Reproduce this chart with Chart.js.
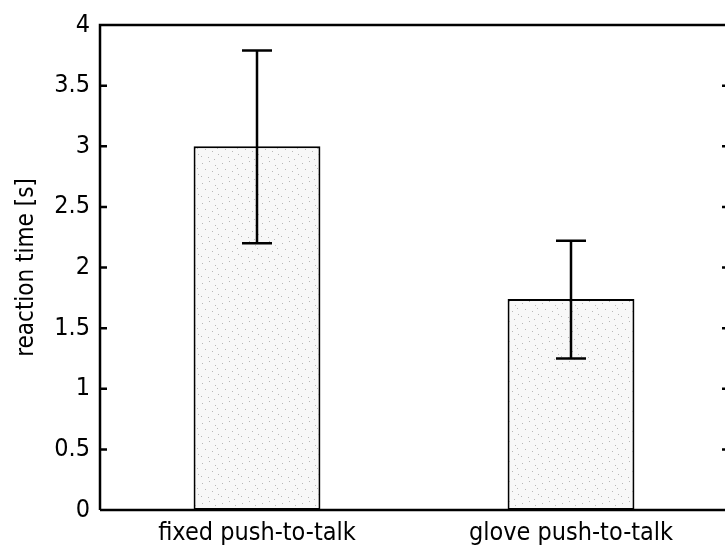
<!DOCTYPE html>
<html>
<head>
<meta charset="utf-8">
<script src="https://cdn.jsdelivr.net/npm/chart.js@4.4.1/dist/chart.umd.min.js"></script>
<style>
  body { margin: 0; background: #fff; overflow: hidden; }
  #wrap { width: 728px; height: 548px; }
</style>
</head>
<body>
<div id="wrap"><canvas id="myChart"></canvas></div>
<script>
const categories = ["fixed push-to-talk", "glove push-to-talk"];
const meanTime = [3.0, 1.74];
const errLow = [2.2, 1.25];
const errHigh = [3.79, 2.22];
const yTicks = [0, 0.5, 1, 1.5, 2, 2.5, 3, 3.5, 4];

const FONT = "'Liberation Sans Narrow', 'DejaVu Sans Condensed', 'Liberation Sans', sans-serif";

// speckled light grey fill like the scanned bars
function speckle() {
  const c = document.createElement("canvas");
  c.width = 20; c.height = 20;
  const g = c.getContext("2d");
  g.fillStyle = "#f8f8f8";
  g.fillRect(0, 0, 20, 20);
  g.fillStyle = "#b8b8b8";
  [[2,3],[9,1],[15,5],[5,9],[12,11],[18,14],[1,16],[8,17],[14,19],[17,8]].forEach(p => g.fillRect(p[0], p[1], 1, 1));
  return g.createPattern(c, "repeat");
}

const errorBars = {
  id: "errorBars",
  afterDatasetsDraw(chart) {
    const { ctx, scales: { y } } = chart;
    const meta = chart.getDatasetMeta(0);
    ctx.save();
    ctx.strokeStyle = "#000";
    ctx.lineWidth = 2.5;
    meta.data.forEach((bar, i) => {
      const x = bar.x;
      const lo = y.getPixelForValue(errLow[i]);
      const hi = y.getPixelForValue(errHigh[i]);
      ctx.beginPath();
      ctx.moveTo(x, lo); ctx.lineTo(x, hi);
      ctx.moveTo(x - 15, lo); ctx.lineTo(x + 15, lo);
      ctx.moveTo(x - 15, hi); ctx.lineTo(x + 15, hi);
      ctx.stroke();
    });
    ctx.restore();
  }
};

const frame = {
  id: "frame",
  afterDraw(chart) {
    const { ctx, chartArea: a, scales: { y } } = chart;
    ctx.save();
    ctx.strokeStyle = "#000";
    ctx.lineWidth = 2.5;
    ctx.beginPath();
    ctx.moveTo(a.left, a.bottom); ctx.lineTo(a.left, a.top); ctx.lineTo(a.right, a.top);
    ctx.moveTo(a.left, a.bottom); ctx.lineTo(a.right, a.bottom);
    yTicks.forEach(v => {
      const py = y.getPixelForValue(v);
      ctx.moveTo(a.left, py); ctx.lineTo(a.left + 7, py);
      ctx.moveTo(a.right, py); ctx.lineTo(a.right - 6, py);
    });
    ctx.stroke();
    ctx.restore();
  }
};

new Chart(document.getElementById("myChart"), {
  type: "bar",
  data: {
    labels: categories,
    datasets: [{
      data: meanTime,
      backgroundColor: speckle(),
      borderColor: "#000",
      borderWidth: 2,
      borderSkipped: false,
      barPercentage: 0.404,
      categoryPercentage: 1
    }]
  },
  options: {
    responsive: true,
    maintainAspectRatio: false,
    animation: false,
    layout: { padding: { top: 23, right: 0, left: 0, bottom: 0 } },
    plugins: { legend: { display: false }, tooltip: { enabled: false } },
    scales: {
      x: {
        grid: { display: false, drawTicks: false },
        border: { display: false },
        ticks: { color: "#000", font: { family: FONT, size: 25 }, padding: 8 },
        afterFit: s => { s.height = 38; }
      },
      y: {
        min: 0, max: 4,
        afterBuildTicks: s => { s.ticks = yTicks.map(v => ({ value: v })); },
        grid: { display: false, drawTicks: false },
        border: { display: false },
        ticks: { color: "#000", font: { family: FONT, size: 25 }, padding: 10, callback: v => String(v) },
        title: { display: true, text: "reaction time [s]", color: "#000", font: { family: FONT, size: 24 }, padding: { top: 12, bottom: 0 } },
        afterFit: s => { s.width = 100; }
      }
    }
  },
  plugins: [errorBars, frame]
});
</script>
</body>
</html>
